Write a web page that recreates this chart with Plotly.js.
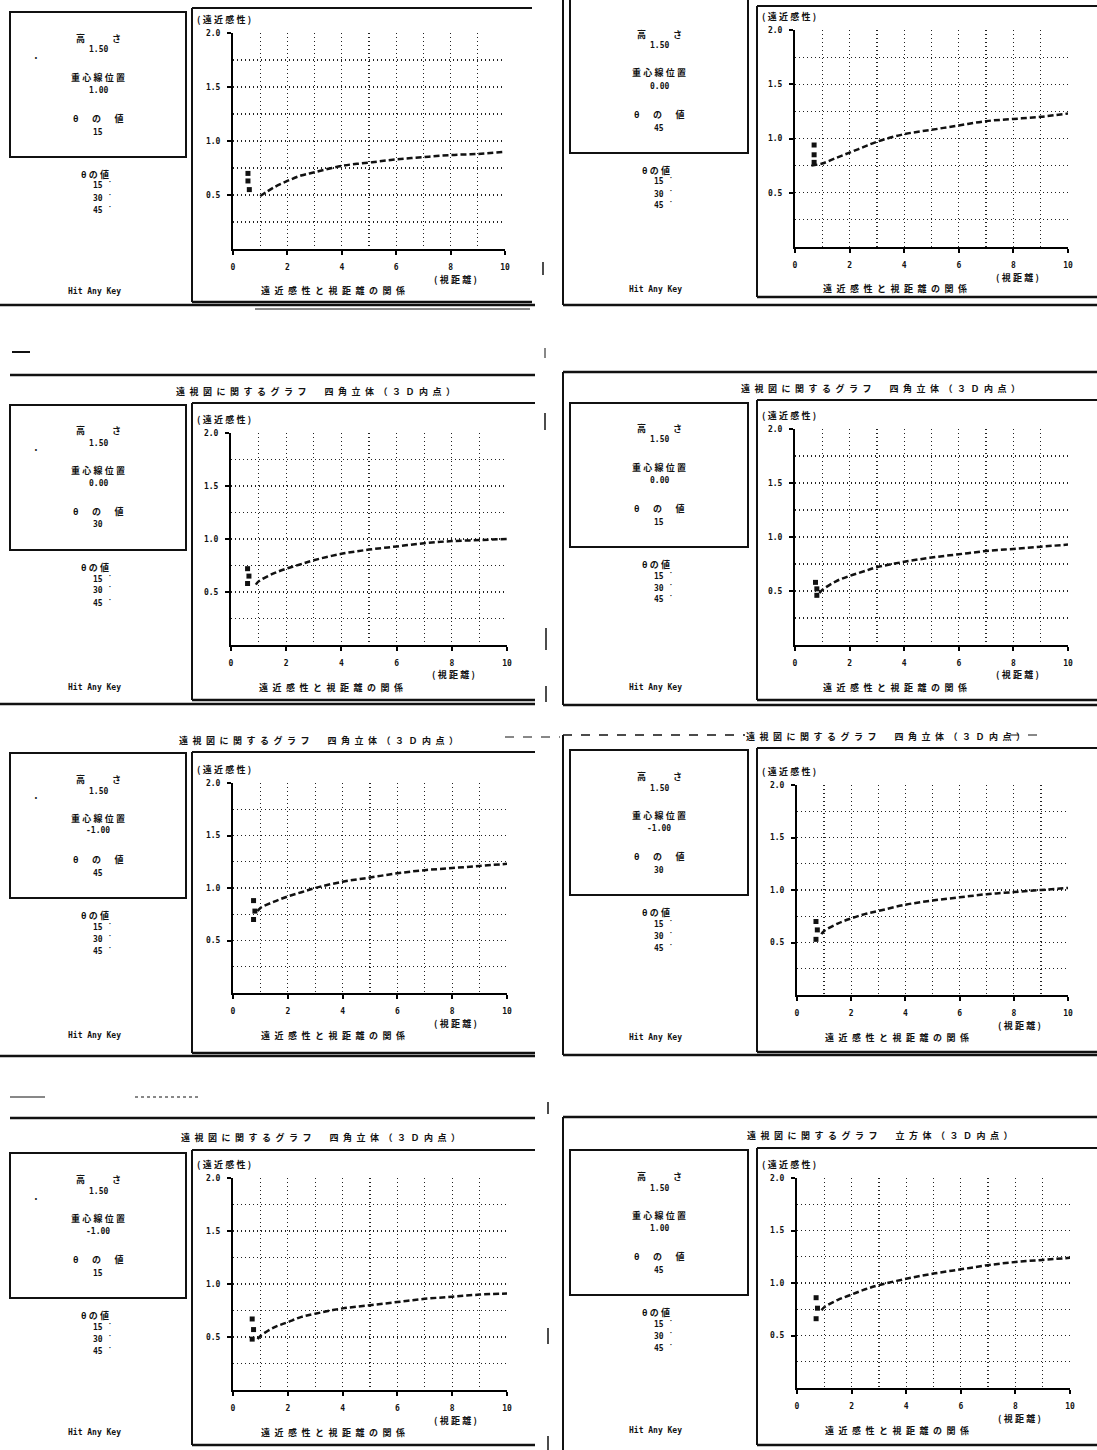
<!DOCTYPE html>
<html><head><meta charset="utf-8">
<script src="https://cdn.plot.ly/plotly-3.0.1.min.js"></script>
<style>html,body{margin:0;padding:0;background:#fff}</style>
</head><body><div id="chart" style="width:1097px;height:1450px"></div>
<script>
// ---------------- DATA ----------------
const xTickVals = [0, 2, 4, 6, 8, 10];
const xTickText = ['0', '2', '4', '6', '8', '10'];
const yTickVals = [0.5, 1.0, 1.5, 2.0];
const yTickText = ['0.5', '1.0', '1.5', '2.0'];

const heightVals = ['1.50', '1.50', '1.50', '1.50', '1.50', '1.50', '1.50', '1.50'];
const centerVals = ['1.00', '0.00', '0.00', '0.00', '-1.00', '-1.00', '-1.00', '1.00'];
const thetaVals  = ['15', '45', '30', '15', '45', '30', '15', '45'];
const thetaList  = ['15', '30', '45'];

const titleSquare = '遠視図に関するグラフ　四角立体（３Ｄ内点）';
const titleCube   = '遠視図に関するグラフ　立方体（３Ｄ内点）';
const panelTitles = [null, null, titleSquare, titleSquare, titleSquare, titleSquare, titleSquare, titleCube];

const labelHeight = '高　さ';
const labelCenter = '重心線位置';
const labelTheta  = 'θの値';
const yAxisLabel  = '(遠近感性)';
const xAxisLabel  = '(視距離)';
const captionText = '遠近感性と視距離の関係';
const hitText     = 'Hit Any Key';

// curves (視距離 -> 遠近感性)
const curveX1 = [1, 1.5, 2, 2.5, 3, 4, 5, 6, 7, 8, 9, 10];
const curveY1 = [0.49, 0.57, 0.63, 0.68, 0.71, 0.77, 0.80, 0.83, 0.85, 0.87, 0.88, 0.90];
const curveX2 = [0.6, 1, 1.5, 2, 2.5, 3, 4, 5, 6, 7, 8, 9, 10];
const curveY2 = [0.75, 0.77, 0.82, 0.87, 0.92, 0.97, 1.04, 1.08, 1.12, 1.16, 1.18, 1.20, 1.23];
const curveX  = [0.9, 1, 1.5, 2, 2.5, 3, 4, 5, 6, 7, 8, 9, 10];
const curveY3 = [0.57, 0.60, 0.67, 0.72, 0.76, 0.80, 0.86, 0.90, 0.93, 0.96, 0.98, 0.99, 1.00];
const curveY4 = [0.48, 0.51, 0.59, 0.64, 0.68, 0.72, 0.77, 0.81, 0.84, 0.87, 0.89, 0.91, 0.93];
const curveY5 = [0.78, 0.81, 0.87, 0.92, 0.96, 1.00, 1.06, 1.10, 1.14, 1.17, 1.19, 1.21, 1.23];
const curveY6 = [0.58, 0.61, 0.68, 0.73, 0.77, 0.80, 0.86, 0.90, 0.93, 0.96, 0.98, 1.00, 1.02];
const curveY7 = [0.48, 0.51, 0.59, 0.64, 0.69, 0.72, 0.77, 0.80, 0.83, 0.86, 0.88, 0.90, 0.91];
const curveY8 = [0.74, 0.77, 0.84, 0.89, 0.94, 0.98, 1.04, 1.09, 1.13, 1.17, 1.20, 1.22, 1.24];

// small clusters of marks near the start of each curve
const clusterX1 = [0.55, 0.55, 0.6];  const clusterY1 = [0.70, 0.63, 0.55];
const clusterX2 = [0.7, 0.7, 0.7];    const clusterY2 = [0.94, 0.85, 0.78];
const clusterX3 = [0.6, 0.65, 0.6];   const clusterY3 = [0.72, 0.65, 0.58];
const clusterX4 = [0.75, 0.8, 0.8];   const clusterY4 = [0.58, 0.52, 0.46];
const clusterX5 = [0.75, 0.8, 0.75];  const clusterY5 = [0.88, 0.78, 0.70];
const clusterX6 = [0.7, 0.75, 0.7];   const clusterY6 = [0.70, 0.62, 0.53];
const clusterX7 = [0.7, 0.75, 0.7];   const clusterY7 = [0.67, 0.57, 0.48];
const clusterX8 = [0.7, 0.75, 0.7];   const clusterY8 = [0.86, 0.76, 0.66];

const curves = [
  [curveX1, curveY1], [curveX2, curveY2], [curveX, curveY3], [curveX, curveY4],
  [curveX, curveY5], [curveX, curveY6], [curveX, curveY7], [curveX, curveY8]
];
const clusters = [
  [clusterX1, clusterY1], [clusterX2, clusterY2], [clusterX3, clusterY3], [clusterX4, clusterY4],
  [clusterX5, clusterY5], [clusterX6, clusterY6], [clusterX7, clusterY7], [clusterX8, clusterY8]
];

// ---------------- LAYOUT GEOMETRY (pixels) ----------------
const W = 1097, H = 1450;
const fx = x => x / W, fy = y => 1 - y / H;
const geo = [
  {x0:233, x1:505, T:33,   B:249,  box:[10,12,186,157],    frame:[192,8,532,302],    tx:null, ty:null, left:true},
  {x0:795, x1:1068,T:30,   B:247,  box:[570,-6,748,153],   frame:[757,6,1097,297],   tx:null, ty:null, left:false},
  {x0:231, x1:507, T:433,  B:645,  box:[10,405,186,550],   frame:[192,403,535,700],  tx:315, ty:392, left:true},
  {x0:795, x1:1068,T:429,  B:645,  box:[570,403,748,547],  frame:[757,400,1097,700], tx:880, ty:388, left:false},
  {x0:233, x1:507, T:783,  B:993,  box:[10,753,186,898],   frame:[192,752,535,1053], tx:318, ty:740, left:true},
  {x0:797, x1:1068,T:785,  B:995,  box:[570,750,748,895],  frame:[757,748,1097,1052],tx:885, ty:737, left:false},
  {x0:233, x1:507, T:1178, B:1390, box:[10,1153,186,1298], frame:[192,1150,535,1445],tx:320, ty:1137,left:true},
  {x0:797, x1:1070,T:1178, B:1388, box:[570,1150,748,1295],frame:[757,1148,1097,1445],tx:880,ty:1135,left:false}
];
// extra ruled lines of the printout [x1,y1,x2,y2,width,dash]
const extraLines = [
  [0,305,535,305,2.5,'solid'], [255,309,530,309,1,'solid'], [12,352,30,352,2,'solid'],
  [563,0,563,305,2,'solid'], [563,305,1097,305,2.5,'solid'],
  [10,375,535,375,2.5,'solid'], [0,704,535,704,2.5,'solid'],
  [563,372,1097,372,2.5,'solid'], [563,372,563,705,2,'solid'], [563,705,1097,705,2.5,'solid'],
  [505,737,560,737,1,'dash'], [563,735,745,735,1.5,'dash'], [1010,735,1040,735,1,'dash'],
  [563,735,563,1055,2,'solid'], [0,1056,535,1056,2.5,'solid'], [563,1055,1097,1055,2.5,'solid'],
  [10,1097,45,1097,1,'solid'], [135,1097,200,1097,1,'dot'],
  [10,1118,535,1118,2.5,'solid'], [563,1117,1097,1117,2.5,'solid'], [563,1117,563,1450,2,'solid'],
  [543,262,543,275,1.5,'solid'], [545,348,545,358,1,'solid'], [545,413,545,430,1.5,'solid'],
  [546,628,546,650,1.5,'solid'], [546,686,546,702,1.5,'solid'], [548,1102,548,1114,1.5,'solid'],
  [548,1328,548,1344,1.5,'solid'], [548,1436,548,1450,1.5,'solid']
];

// ---------------- BUILD ----------------
const CJK = '"Noto Sans CJK JP", "Noto Sans CJK SC", sans-serif';
const MONO = '"DejaVu Sans Mono", monospace';
const INK = '#111';
const spaced = (s, sep) => s.split('').join(sep);

const data = [];
const layout = {
  width: W, height: H, margin: {l:0, r:0, t:0, b:0},
  paper_bgcolor: '#fff', plot_bgcolor: '#fff', showlegend: false,
  shapes: [], annotations: []
};

function ann(x, y, text, opts) {
  opts = opts || {};
  layout.annotations.push({
    xref:'paper', yref:'paper', x: fx(x), y: fy(y), text: text, showarrow:false,
    xanchor: opts.xanchor || 'center', yanchor: 'middle',
    font: {family: opts.family || CJK, size: opts.size || 9, color: INK, weight: 'bold'}
  });
}
function line(x1, y1, x2, y2, w, dash) {
  layout.shapes.push({type:'line', xref:'paper', yref:'paper', x0:fx(x1), y0:fy(y1), x1:fx(x2), y1:fy(y2),
    line:{color:INK, width:w || 2, dash: dash || 'solid'}});
}

geo.forEach((g, i) => {
  const k = i === 0 ? '' : String(i + 1);
  const gridStyle = {showgrid:true, gridcolor:'#222', griddash:'1px,3px', gridwidth:1.2};
  layout['xaxis' + k] = Object.assign({
    domain:[fx(g.x0), fx(g.x1)], anchor:'y' + k, range:[0, 10],
    tickmode:'array', tickvals:xTickVals, ticktext:xTickText,
    minor: Object.assign({tickmode:'linear', tick0:0, dtick:1, ticks:''}, gridStyle),
    showline:true, linecolor:'#000', linewidth:2, zeroline:false,
    ticks:'outside', ticklen:4, tickwidth:2, tickcolor:'#000', ticklabelstandoff:5,
    tickfont:{family:MONO, size:8, color:INK, weight:'bold'}, fixedrange:true
  }, gridStyle);
  layout['yaxis' + k] = Object.assign({
    domain:[fy(g.B), fy(g.T)], anchor:'x' + k, range:[0, 2],
    tickmode:'array', tickvals:yTickVals, ticktext:yTickText,
    minor: Object.assign({tickmode:'linear', tick0:0, dtick:0.25, ticks:''}, gridStyle),
    showline:true, linecolor:'#000', linewidth:2, zeroline:false,
    ticks:'outside', ticklen:4, tickwidth:2, tickcolor:'#000', ticklabelstandoff:5,
    tickfont:{family:MONO, size:8, color:INK, weight:'bold'}, fixedrange:true
  }, gridStyle);

  data.push({x: curves[i][0], y: curves[i][1], xaxis:'x' + k, yaxis:'y' + k, type:'scatter',
    mode:'lines', line:{color:INK, width:2.5, dash:'6px,3px', shape:'spline'}, hoverinfo:'skip'});
  data.push({x: clusters[i][0], y: clusters[i][1], xaxis:'x' + k, yaxis:'y' + k, type:'scatter',
    mode:'markers', marker:{symbol:'square', size:5, color:INK}, hoverinfo:'skip'});

  // parameter box
  const [bl, bt, br, bb] = g.box;
  layout.shapes.push({type:'rect', xref:'paper', yref:'paper', x0:fx(bl), y0:fy(bb), x1:fx(br), y1:fy(bt),
    line:{color:INK, width:2}});
  const cx = (bl + br) / 2;
  ann(cx, bb - 119, spaced(labelHeight, '\u2003'));
  ann(cx, bb - 107, heightVals[i], {family:MONO, size:8});
  ann(cx, bb - 80, spaced(labelCenter, '\u2005'));
  ann(cx, bb - 67, centerVals[i], {family:MONO, size:8});
  ann(cx, bb - 39, spaced(labelTheta, '\u3000\u2002'));
  ann(cx, bb - 25, thetaVals[i], {family:MONO, size:8});
  if (g.left) ann(36, bb - 100, '·', {size:10});
  // theta list below the box
  ann(cx - 3, bb + 17, spaced(labelTheta, '\u2005'));
  thetaList.forEach((t, j) => ann(cx + 4, bb + 29 + 12 * j, t + ' \u02d9', {family:MONO, size:8}));
  ann(cx - 4, g.B + 42, hitText, {family:MONO, size:8});

  // chart frame
  const [fl, ft, fr, fb] = g.frame;
  line(fl, ft, fr, ft, 2); line(fl, ft, fl, fb, 2); line(fl, fb, fr, fb, 2.5);
  ann(fl + 3, g.T - 14, spaced(yAxisLabel, '\u2005'), {xanchor:'left'});
  ann(g.x0 + 222, g.B + 30, spaced(xAxisLabel, '\u2005'));
  ann(g.x0 + 100, g.B + 42, spaced(captionText, '\u2002'));
  if (panelTitles[i]) ann(g.tx, g.ty, spaced(panelTitles[i], '\u2002'));
});

extraLines.forEach(l => line(l[0], l[1], l[2], l[3], l[4], l[5]));

Plotly.newPlot('chart', data, layout, {staticPlot:true, displayModeBar:false});
</script></body></html>
